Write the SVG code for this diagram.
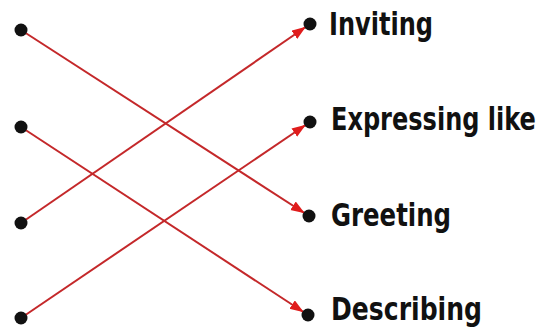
<svg xmlns="http://www.w3.org/2000/svg" width="555" height="332" viewBox="0 0 555 332">
<defs>
<marker id="ah" markerUnits="userSpaceOnUse" markerWidth="20" markerHeight="12" refX="19" refY="5" orient="auto"><path d="M0,0 L14,5 L0,10 z" fill="#e01c1c"/></marker>
<style>
.dot{fill:#111}
.lbl{font-family:"Liberation Sans Narrow","DejaVu Sans Condensed","Liberation Sans",sans-serif;font-weight:bold;font-size:32px;fill:#111}
.ln{stroke:#c4282a;stroke-width:2;fill:none;marker-end:url(#ah)}
</style>
</defs>
<rect width="555" height="332" fill="#fff"/>
<g id="connectors">
<line class="ln" x1="21" y1="30" x2="309" y2="216"/>
<line class="ln" x1="21" y1="127" x2="308" y2="315"/>
<line class="ln" x1="21" y1="223" x2="310" y2="24"/>
<line class="ln" x1="21" y1="318" x2="310" y2="122"/>
</g>
<g id="l1"><circle class="dot" cx="21" cy="30" r="6.5"/></g>
<g id="l2"><circle class="dot" cx="21" cy="127" r="6.5"/></g>
<g id="l3"><circle class="dot" cx="21" cy="223" r="6.5"/></g>
<g id="l4"><circle class="dot" cx="21" cy="318" r="6.5"/></g>
<g id="inviting"><circle class="dot" cx="310" cy="24" r="6.5"/><text class="lbl" x="329" y="35" textLength="104" lengthAdjust="spacingAndGlyphs">Inviting</text></g>
<g id="expressing"><circle class="dot" cx="310" cy="122" r="6.5"/><text class="lbl" transform="translate(331,130) scale(0.85,1)" x="0" y="0" textLength="241" lengthAdjust="spacingAndGlyphs">Expressing like</text></g>
<g id="greeting"><circle class="dot" cx="309" cy="216" r="6.5"/><text class="lbl" x="331" y="226" textLength="120" lengthAdjust="spacingAndGlyphs">Greeting</text></g>
<g id="describing"><circle class="dot" cx="308" cy="315" r="6.5"/><text class="lbl" x="331" y="320" textLength="151" lengthAdjust="spacingAndGlyphs">Describing</text></g>
</svg>
